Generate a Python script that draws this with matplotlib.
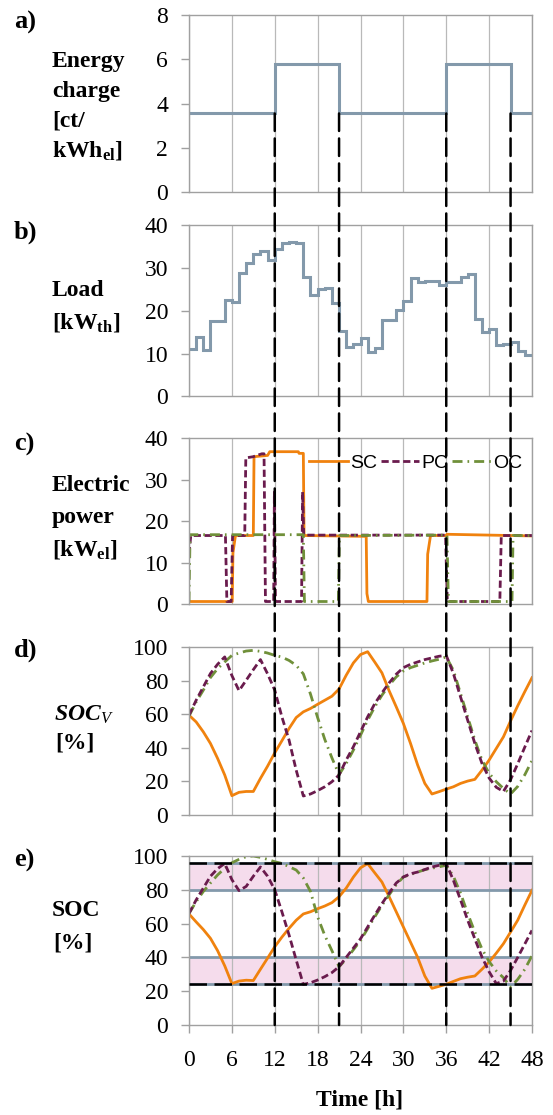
import numpy as np
import matplotlib
matplotlib.use("Agg")
import matplotlib.pyplot as plt
from matplotlib.patches import ConnectionPatch

plt.rcParams["font.family"] = ["Liberation Serif", "DejaVu Serif"]
plt.rcParams["mathtext.fontset"] = "custom"
plt.rcParams["mathtext.rm"] = "Liberation Serif"
plt.rcParams["mathtext.it"] = "Liberation Serif:italic"
plt.rcParams["mathtext.bf"] = "Liberation Serif:bold"

# a) energy charge [ct/kWh_el], piecewise constant
price_times = [0, 12, 21, 36, 45, 48]
price = [3.55, 5.8, 3.55, 5.8, 3.55]

# b) thermal load [kW_th], hourly
load = [11.0, 13.8, 10.9, 17.5, 17.6, 22.4, 22.1, 28.9, 31.2, 33.2, 34.0, 31.8,
        34.3, 35.7, 36.0, 35.7, 27.8, 23.6, 25.0, 25.2, 21.9, 15.3, 11.5, 12.2,
        13.6, 10.3, 11.2, 17.9, 17.9, 20.2, 22.3, 27.6, 26.6, 27.0, 27.0, 26.1,
        26.8, 26.6, 27.8, 28.5, 18.1, 15.1, 15.8, 12.1, 12.3, 12.6, 10.6, 9.7]

# c) electric power [kW_el]
sc_t = [0, 6.05, 6.15, 6.5, 9.0, 9.1, 11.0, 11.3, 15.3, 15.4, 16.0, 16.1,
        24.8, 24.9, 25.1, 33.3, 33.4, 33.8, 36.0, 36.1, 48]
sc_p = [0.6, 0.6, 12.3, 16.5, 16.5, 35.5, 35.8, 36.7, 36.7, 36.3, 36.3, 16.5,
        16.3, 2.5, 0.6, 0.6, 12.0, 16.5, 16.5, 16.8, 16.4]
pc_t = [0, 0.25, 5.1, 5.3, 5.9, 6.1, 7.8, 7.95, 9.0, 10.2, 10.5, 10.7, 11.85,
        11.95, 12.1, 15.75, 15.9, 16.05, 35.9, 36.15, 43.5, 43.7, 48]
pc_p = [12.0, 16.5, 16.5, 0.6, 0.6, 16.5, 16.5, 35.2, 35.5, 36.2, 36.2, 0.6,
        0.6, 27.0, 0.6, 0.6, 27.0, 16.6, 16.6, 0.6, 0.6, 16.5, 16.5]
oc_t = [0, 0.15, 16.0, 16.15, 20.9, 21.05, 36.1, 36.3, 45.2, 45.35, 48]
oc_p = [0.6, 16.7, 16.7, 0.6, 0.6, 16.5, 16.6, 0.6, 0.6, 16.5, 16.5]

# d) SOC_V [%], hourly 0..48
hours = np.arange(49)
socv_sc = [59.4, 55.4, 49.5, 42.6, 33.7, 23.8, 11.5, 13.5, 14.0, 14.0,
           21.8, 29.1, 37.0, 44.2, 51.5, 58.0, 61.4, 63.4, 65.9, 68.3,
           70.7, 75.0, 83.2, 90.5, 95.5, 97.2, 91.0, 84.6, 74.0, 64.4,
           54.5, 42.6, 29.7, 18.8, 12.5, 13.9, 15.4, 16.8, 18.8, 20.2,
           21.2, 26.7, 32.7, 39.6, 46.5, 56.0, 65.0, 73.5, 81.7]
socv_pc = [59.4, 68.3, 76.2, 84.2, 89.7, 94.1, 83.0, 74.0, 80.2, 86.5,
           92.5, 84.0, 74.3, 58.4, 44.6, 26.7, 11.3, 12.5, 14.5, 16.8,
           19.8, 23.8, 32.7, 40.6, 49.5, 58.4, 66.3, 72.7, 78.6, 83.8,
           87.7, 89.7, 91.1, 92.5, 93.5, 94.5, 95.0, 84.2, 70.3, 56.4,
           42.6, 30.7, 22.0, 16.5, 14.0, 21.0, 30.5, 40.5, 50.3]
socv_oc = [58.8, 67.3, 74.3, 81.8, 87.1, 91.1, 95.0, 96.4, 97.6, 98.0,
           97.4, 96.4, 95.0, 94.0, 92.0, 89.1, 84.0, 72.0, 58.0, 45.0,
           34.0, 24.0, 30.7, 38.6, 47.5, 56.4, 64.4, 71.3, 77.2, 82.2,
           85.7, 87.7, 89.1, 90.5, 91.7, 92.7, 94.1, 86.1, 72.3, 58.4,
           44.6, 32.7, 24.8, 19.8, 15.8, 12.5, 17.0, 24.0, 32.4]

# e) SOC [%], hourly 0..48
soc_sc = [65.7, 61.0, 56.5, 51.3, 44.0, 35.0, 24.5, 26.0, 26.5, 26.3,
          33.0, 39.6, 46.3, 52.0, 57.2, 62.0, 65.7, 67.0, 68.8, 70.4,
          72.4, 75.9, 81.0, 87.5, 93.0, 95.5, 90.0, 84.6, 76.0, 67.0,
          58.0, 49.0, 40.0, 29.0, 21.7, 22.9, 24.1, 25.8, 27.4, 28.3,
          29.0, 33.0, 37.3, 42.5, 48.1, 55.0, 62.0, 71.0, 79.7]
soc_pc = [66.0, 74.0, 81.0, 88.0, 92.5, 95.6, 86.0, 79.5, 82.0, 88.0,
          93.5, 88.0, 80.0, 67.0, 53.3, 38.5, 24.0, 25.0, 26.6, 28.6,
          31.0, 34.5, 40.0, 45.5, 51.0, 58.0, 65.0, 71.8, 78.0, 84.0,
          87.6, 89.5, 90.5, 92.0, 93.5, 94.5, 95.5, 85.6, 74.0, 62.0,
          51.0, 40.2, 31.5, 24.5, 26.0, 32.3, 40.0, 48.0, 56.0]
soc_oc = [66.0, 73.0, 79.0, 84.0, 88.8, 92.7, 96.0, 98.0, 99.6, 100.0,
          99.2, 98.0, 96.6, 95.6, 93.7, 91.7, 87.0, 79.0, 64.0, 53.0,
          44.0, 34.5, 39.0, 44.5, 50.0, 57.0, 64.0, 70.8, 77.0, 83.0,
          87.6, 89.0, 90.5, 91.9, 92.8, 93.6, 94.5, 88.0, 78.0, 66.0,
          55.0, 45.0, 37.5, 32.0, 28.0, 22.5, 27.0, 33.0, 41.0]
soc_bands = [(24, 40), (80, 96)]
soc_limits = [24, 96]

GRAY_BLUE = "#8399ab"
ORANGE = "#f0820e"
PURPLE = "#6a1b4d"
GREEN = "#70903a"
GRID = "#b9b9b9"
SPINE = "#a0a0a0"
PC_DASH = (0, (2.6, 1.3))
OC_DASH = (0, (3.6, 1.8, 0.6, 1.8))

W_PX, H_PX = 553, 1115
fig = plt.figure(figsize=(W_PX / 100, H_PX / 100), dpi=100)


def add_panel(top, bottom):
    left, right = 189, 532
    return fig.add_axes([left / W_PX, 1 - bottom / H_PX,
                         (right - left) / W_PX, (bottom - top) / H_PX])


def label(x, y, s, size=17, **kw):
    fig.text(x / W_PX, 1 - y / H_PX, s, ha="left", va="center_baseline",
             fontsize=size, fontweight="bold", **kw)


ax_a = add_panel(15, 192)
ax_b = add_panel(225, 396.5)
ax_c = add_panel(438, 604)
ax_d = add_panel(647, 815)
ax_e = add_panel(856, 1025)
axes = [ax_a, ax_b, ax_c, ax_d, ax_e]

ylims = [(8, 2), (40, 10), (40, 10), (100, 20), (100, 20)]
for ax, (top, step) in zip(axes, ylims):
    ax.set_xlim(0, 48)
    ax.set_ylim(0, top)
    ax.set_yticks(np.arange(0, top + 0.1, step))
    ax.set_xticks(np.arange(0, 49, 6))
    ax.grid(axis="x", color=GRID, lw=0.9)
    ax.set_axisbelow(True)
    for sp in ax.spines.values():
        sp.set_color(SPINE)
        sp.set_linewidth(1.0)
    ax.tick_params(axis="y", length=6, width=1, color=SPINE, pad=9,
                   labelsize=17)
    if ax is not ax_e:
        ax.tick_params(axis="x", length=0, labelbottom=False)
ax_e.tick_params(axis="x", length=6, width=1, color=SPINE, pad=12,
                 labelsize=17)

# a)
ax_a.stairs(price, price_times, baseline=None, color=GRAY_BLUE, lw=2.2)

# b)
ax_b.stairs(load, np.arange(49), baseline=None, color=GRAY_BLUE, lw=2.2)

# c)
ax_c.plot(sc_t, sc_p, color=ORANGE, lw=2, label="SC")
ax_c.plot(pc_t, pc_p, color=PURPLE, lw=2, linestyle=PC_DASH, label="PC")
ax_c.plot(oc_t, oc_p, color=GREEN, lw=2, linestyle=OC_DASH, label="OC")
ax_c.legend(loc="upper right", ncol=3, frameon=False,
            bbox_to_anchor=(1.0, 0.96),
            prop={"family": "Liberation Sans", "size": 14},
            handlelength=2.0, handletextpad=0.1, columnspacing=0.2,
            borderaxespad=0.1)

# d)
ax_d.plot(hours, socv_sc, color=ORANGE, lw=2)
ax_d.plot(hours, socv_oc, color=GREEN, lw=2, linestyle=OC_DASH)
ax_d.plot(hours, socv_pc, color=PURPLE, lw=2, linestyle=PC_DASH)

# e)
for lo, hi in soc_bands:
    ax_e.axhspan(lo, hi, color="#f5dcec", lw=0, zorder=0)
    for v in (lo, hi):
        ax_e.axhline(v, color=GRAY_BLUE, lw=2, zorder=1)
ax_e.plot(hours, soc_sc, color=ORANGE, lw=2, zorder=2)
ax_e.plot(hours, soc_oc, color=GREEN, lw=2, linestyle=OC_DASH, zorder=2)
ax_e.plot(hours, soc_pc, color=PURPLE, lw=2, linestyle=PC_DASH, zorder=2)
for v in soc_limits:
    ax_e.axhline(v, color="black", lw=1.8, linestyle=(0, (7, 3)), zorder=3)

# vertical dashed markers at tariff changes, from panel a down to panel e
for i in range(1, len(price_times) - 1):
    t = price_times[i]
    lvl = min(price[i - 1], price[i])
    con = ConnectionPatch(xyA=(t, lvl), coordsA=ax_a.transData,
                          xyB=(t, 0), coordsB=ax_e.transData,
                          color="black", lw=1.8, linestyle=(0, (7, 3)))
    con.set_zorder(5)
    fig.add_artist(con)

# panel letters and y labels
for y, s in [(22, "a)"), (232, "b)"), (444, "c)"), (650, "d)"), (860, "e)")]:
    fig.text(14 / W_PX, 1 - y / H_PX, s, ha="left", va="center",
             fontsize=19, fontweight="bold")

for y, s in zip([59, 89, 119, 148],
                ["Energy", "charge", "[ct/", r"kWh$_{\mathbf{el}}$]"]):
    label(52, y, s)
for y, s in zip([288, 320], ["Load", r"[kW$_{\mathbf{th}}$]"]):
    label(52, y, s)
for y, s in zip([483, 515, 547], ["Electric", "power", r"[kW$_{\mathbf{el}}$]"]):
    label(52, y, s)
label(54, 712, r"SOC$_{\mathit{V}}$", fontstyle="italic")
label(55, 740, "[%]")
label(52, 908, "SOC")
label(53, 940, "[%]")

fig.text(360 / W_PX, 1 - 1100 / H_PX, "Time [h]", ha="center", va="center",
         fontsize=17, fontweight="bold")

fig.savefig("out.png", dpi=100)
